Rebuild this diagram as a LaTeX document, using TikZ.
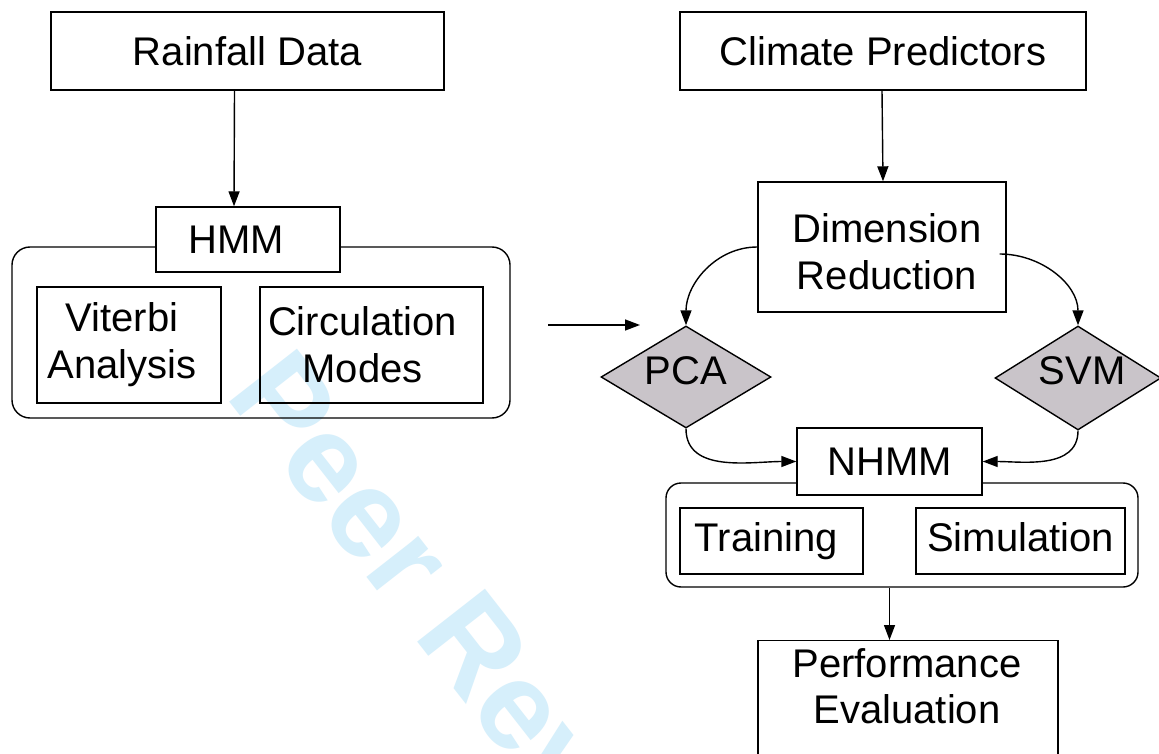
\documentclass[tikz,border=0pt]{standalone}
\usepackage{fontspec}
\setmainfont{Liberation Sans}
\usetikzlibrary{shapes.geometric,arrows.meta}
\definecolor{dmfill}{RGB}{201,196,201}
\definecolor{wmblue}{RGB}{214,239,251}
\begin{document}
\begin{tikzpicture}[x=1pt,y=-1pt,
  lw/.style={line width=1.4pt},
  box/.style={draw,lw,inner sep=0pt,align=center,font=\fontsize{40}{47}\selectfont},
  grp/.style={draw,lw,rounded corners=18pt,inner sep=0pt},
  dm/.style={draw,lw,diamond,fill=dmfill,inner sep=0pt},
  dmtext/.style={font=\fontsize{40}{47}\selectfont,inner sep=0pt},
  arr/.style={lw,-{Triangle[length=15pt,width=11pt]}},
  wm/.style={text=wmblue,inner sep=0pt,font=\fontsize{125}{125}\selectfont\bfseries}]
\useasboundingbox (0,0) rectangle (1159,754);
\clip (0,0) rectangle (1159,754);
\fill[white] (0,0) rectangle (1159,754);
% watermark
\node[wm,anchor=base west,rotate=-52] (wmark) at (224,395) {Peer Review};
% left part
\node[box,minimum width=393pt,minimum height=78pt] (rain) at (247.5,51) {Rainfall Data};
\node[grp,minimum width=498pt,minimum height=171pt] (hgrp) at (261,332.5) {};
\node[box,fill=white,minimum width=184pt,minimum height=65pt] (hmm) at (248,239.5) {HMM\hspace*{24pt}};
\node[box,minimum width=184pt,minimum height=116pt] (vit) at (129,345) {Viterbi\hspace*{14pt}\\Analysis\hspace*{14pt}};
\node[box,minimum width=223pt,minimum height=116pt] (circ) at (371.5,345) {Circulation\hspace*{18pt}\\Modes\hspace*{18pt}};
\draw[arr] ([xshift=-13pt]rain.south) -- ([xshift=-14pt]hmm.north);
\coordinate (fa) at (548,325);
\coordinate (fb) at (640,325);
\draw[arr] (fa) -- (fb);
% right part
\node[box,minimum width=406pt,minimum height=78pt] (clim) at (883,51) {Climate Predictors};
\node[box,minimum width=248pt,minimum height=130pt] (dim) at (882,247) {};
\node[box,draw=none,inner sep=0pt] (dimtxt) at (887,252) {Dimension\\Reduction};
\draw[arr] ([xshift=-1pt]clim.south) -- ([xshift=1pt]dim.north);
\node[dm,minimum width=170pt,minimum height=102pt] (pca) at (686,377) {};
\node[dmtext] (pcatxt) at (686,371) {PCA};
\node[dm,minimum width=166pt,minimum height=104pt] (svm) at (1078,378) {};
\node[dmtext] (svmtxt) at (1082,371) {SVM};
\draw[arr] (dim.west) to[out=180,in=90] (pca.north);
\draw[arr] ([xshift=-7pt,yshift=-7pt]dim.east) to[out=0,in=90] (svm.north);
\node[grp,rounded corners=15pt,minimum width=472pt,minimum height=104pt] (ngrp) at (902,535) {};
\node[box,fill=white,minimum width=185pt,minimum height=67pt] (nhmm) at (889.5,461.5) {NHMM};
\draw[arr] (pca.south) to[out=-90,in=180] (nhmm.west);
\draw[arr] (svm.south) to[out=-90,in=0] (nhmm.east);
\node[box,minimum width=183pt,minimum height=66pt] (train) at (771.5,541) {\vphantom{Tg}Training\hspace*{10pt}};
\node[box,minimum width=209pt,minimum height=66pt] (sim) at (1020.5,541) {\vphantom{Tg}Simulation};
\node[box,minimum width=300pt,minimum height=160pt,anchor=north] (perf) at (908,640) {};
\node[font=\fontsize{40}{46}\selectfont,align=center,inner sep=0pt] (perftxt) at (907,686) {Performance\\Evaluation};
\draw[arr] (nhmm.south |- ngrp.south) -- (nhmm.south |- perf.north);
\end{tikzpicture}
\end{document}
